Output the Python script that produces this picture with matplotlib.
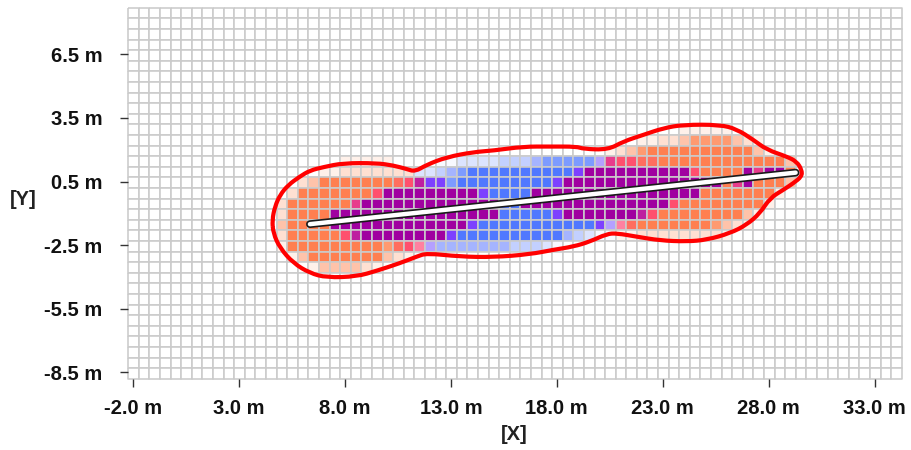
import numpy as np
import matplotlib
matplotlib.use("Agg")
import matplotlib.pyplot as plt
from matplotlib.colors import ListedColormap, BoundaryNorm
from matplotlib.path import Path
from matplotlib.patches import PathPatch

plt.rcParams['font.family'] = ['Liberation Sans', 'DejaVu Sans']

# Axis ticks (metres)
x_ticks = [-2.0, 3.0, 8.0, 13.0, 18.0, 23.0, 28.0, 33.0]
y_ticks = [-8.5, -5.5, -2.5, 0.5, 3.5, 6.5]
x_min, x_max = -2.22, 34.28
y_min, y_max = -8.80, 8.70
cell_size = 0.5

# Cell classes per grid row: "<first column><class>" runs, "." = empty cell
cell_rows = {
    11: "52g 57.",
    12: "48g 50l 52s 53u 57s 58l 59g 60.",
    13: "45g 46l 47s 48u 49o 59s 60g 61.",
    14: "20g 25. 29f 31d 35c 38m 39n 44v 45h 46r 48a 50o 62s 63.",
    15: "18g 20l 27d 29c 30m 31n 32B 42V 43P 53r 54o 58P 59h 60P 62o 63.",
    16: "16l 17s 18o 25a 26r 27M 28V 30n 31B 40V 41P 56o 57h 58P 59o 62s 63.",
    17: "15l 16o 23r 24P 33V 34B 38P 54o 61g 62.",
    18: "14l 15o 21h 22P 35B 37P 51r 52o 60g 61.",
    19: "14l 15o 19P 35B 40V 41P 48M 49r 50o 58s 59g 60.",
    20: "14s 15o 19P 32V 33B 44V 45v 46q 47a 48o 55u 56s 57l 58g 59.",
    21: "14l 15o 20r 21M 22P 30V 31B 41m 42c 43d 44f 46g 48l 56g 57.",
    22: "14g 15o 24u 25a 26r 27q 28v 29m 36c 39d 40f 41.",
    23: "15g 16s 17o 24s 25l 26g 27f 28.",
    24: "17g 18s 22l 23g 24.",
}
class_colors = {
    '.': '#ffffff', 'f': '#f8f9ff', 'g': '#fff1ea', 'l': '#ffe0d2', 's': '#ffc3aa',
    'u': '#ff9a70', 'o': '#ff7f50', 'a': '#ff6e5f', 'r': '#ff506e', 'q': '#ff80a0',
    'h': '#e83c8c', 'M': '#be20a0', 'P': '#a000a0', 'V': '#7d41ff', 'v': '#b4a0ff',
    'B': '#5078ff', 'n': '#7d9bff', 'm': '#a5b4ff', 'c': '#c3d0ff', 'd': '#dce4ff',
}

# Boundary contour (red), metres
contour_x = [4.57, 4.70, 4.94, 5.33, 5.88, 6.35, 6.98, 7.92, 9.50, 10.28, 10.92, 11.31,
             11.86, 12.80, 14.06, 15.00, 16.42, 17.68, 18.94, 19.24, 20.42, 21.14, 22.08,
             23.03, 23.97, 25.70, 26.49, 27.27, 27.91, 28.85, 29.32, 29.56, 29.56, 29.16,
             28.69, 28.06, 27.59, 26.96, 26.17, 25.07, 24.13, 22.87, 21.77, 20.83, 20.36,
             19.57, 18.78, 17.83, 16.74, 15.00, 13.43, 11.86, 11.39, 10.60, 9.50, 8.56,
             7.14, 6.35, 5.57, 4.94, 4.62, 4.57]
contour_y = [-1.31, -0.68, -0.13, 0.34, 0.74, 1.02, 1.18, 1.37, 1.37, 1.26, 1.09, 0.97,
             1.29, 1.65, 1.89, 1.96, 2.15, 2.15, 2.15, 2.04, 2.00, 2.39, 2.70,
             3.02, 3.18, 3.18, 2.97, 2.47, 2.00, 1.68, 1.44, 1.05, 0.74, 0.42,
             0.11, -0.28, -0.99, -1.54, -1.94, -2.25, -2.33, -2.28, -2.10, -1.94, -1.97,
             -2.33, -2.57, -2.72, -2.93, -3.07, -3.04, -2.88, -3.04, -3.35, -3.71, -3.98,
             -4.03, -3.82, -3.35, -2.64, -1.94, -1.31]

# Well trace (white with black outline), metres
trace_x = [6.35, 29.27]
trace_y = [-1.51, 0.92]

W, H = 912, 450
fig = plt.figure(figsize=(W / 100, H / 100), dpi=100, facecolor='white')
L, R, T, B = 128.3, 901.8, 7.7, 378.7
ax = fig.add_axes([L / W, 1 - B / H, (R - L) / W, (B - T) / H])

n_cols = int(round((x_max - x_min) / cell_size))
n_rows = int(round((y_max - y_min) / cell_size))
codes = list(class_colors)
grid = np.zeros((n_rows, n_cols), dtype=int)
for row, spec in cell_rows.items():
    tokens = spec.split()
    for i, tok in enumerate(tokens[:-1]):
        start = int(tok[:-1])
        stop = int(tokens[i + 1][:-1])
        grid[row, start:stop] = codes.index(tok[-1])

x_edges = x_min + cell_size * np.arange(n_cols + 1)
y_edges = y_max - cell_size * np.arange(n_rows + 1)
cmap = ListedColormap([class_colors[c] for c in codes])
norm = BoundaryNorm(np.arange(len(codes) + 1) - 0.5, cmap.N)
ax.pcolormesh(x_edges, y_edges, grid, cmap=cmap, norm=norm,
              edgecolors='#cbcbcb', linewidth=1.15, antialiased=True, clip_on=False)

# Smooth closed outline: read points act as quadratic control points
pts = np.column_stack([contour_x[:-1], contour_y[:-1]])
mids = (pts + np.roll(pts, -1, axis=0)) / 2
verts = [tuple(mids[-1])]
cmds = [Path.MOVETO]
for p, m in zip(pts, mids):
    verts += [tuple(p), tuple(m)]
    cmds += [Path.CURVE3, Path.CURVE3]
ax.add_patch(PathPatch(Path(verts, cmds), fill=False, edgecolor='#ff0000', lw=3.0, zorder=4))

ax.plot(trace_x, trace_y, color='#1a1a1a', lw=5.6, solid_capstyle='round', zorder=5)
ax.plot(trace_x, trace_y, color='white', lw=3.2, solid_capstyle='round', zorder=6)

ax.set_xlim(x_min, x_max)
ax.set_ylim(y_min, y_max)
for s in ax.spines.values():
    s.set_visible(False)
ax.set_xticks(x_ticks)
ax.set_yticks(y_ticks)
ax.set_xticklabels([f"{v:.1f} m" for v in x_ticks], fontsize=14.5, fontweight='bold', color='#111111')
ax.set_yticklabels([f"{v:.1f} m" for v in y_ticks], fontsize=14.5, fontweight='bold', color='#111111')
ax.tick_params(axis='both', length=5.8, width=1.0, color='#333333')
ax.tick_params(axis='x', pad=9)
ax.tick_params(axis='y', pad=13)
fig.text(514 / W, 1 - 434.5 / H, "[X]", fontsize=14.5, fontweight='bold', color='#222222', ha='center', va='center')
fig.text(23 / W, 1 - 199.5 / H, "[Y]", fontsize=14.5, fontweight='bold', color='#222222', ha='center', va='center')

fig.savefig('out.png', dpi=100, facecolor='white')
